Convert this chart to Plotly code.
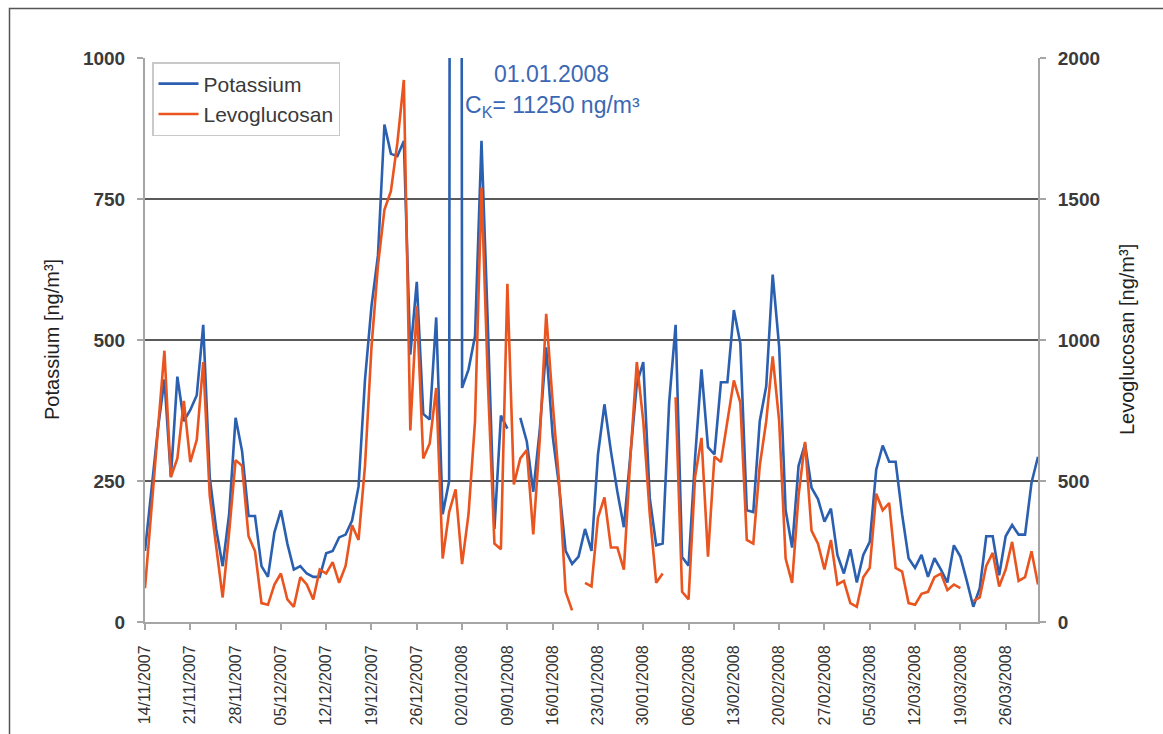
import pandas as pd
import plotly.graph_objects as go

# ---------------- data ----------------
start_date = "2007-11-14"
n_days = 139
dates = pd.date_range(start_date, periods=n_days, freq="D")

potassium = [
    126, 231, 343, 430, 257, 435, 356, 376, 402, 527,
    257, 165, 99, 191, 362, 303, 188, 188, 99, 80,
    159, 198, 139, 93, 99, 86, 80, 80, 122, 126,
    150, 155, 180, 240, 430, 560, 650, 882, 830, 826,
    853, 474, 603, 369, 359, 540, 191, 250, 11250, 415,
    448, 507, 853, 520, 165, 366, 343, None, 362, 320,
    231, 340, 487, 330, 240, 126, 103, 116, 165, 126,
    297, 386, 303, 231, 168, 290, 422, 461, 220, 136,
    139, 389, 527, 115, 100, 290, 448, 310, 297, 425,
    425, 553, 494, 198, 195, 356, 418, 616, 488, 198,
    132, 277, 316, 238, 218, 178, 201, 119, 86, 129,
    70, 119, 142, 270, 313, 284, 284, 191, 113, 96,
    119, 80, 113, 93, 70, 136, 116, 73, 27, 60,
    152, 152, 83, 152, 172, 155, 155, 247, 293,
]

levoglucosan = [
    120, 400, 682, 962, 514, 580, 784, 567, 646, 922,
    449, 264, 87, 317, 574, 554, 304, 251, 67, 61,
    133, 172, 80, 54, 159, 133, 80, 186, 172, 212,
    139, 199, 343, 291, 554, 975, 1264, 1462, 1528, 1699,
    1922, 679, 1120, 580, 633, 830, 225, 390, 470, 205,
    383, 712, 1541, 843, 278, 258, 1199, 488, 580, 610,
    311, 646, 1093, 778, 495, 107, 41, None, 139, 126,
    370, 442, 264, 264, 186, 580, 922, 712, 383, 139,
    172, None, 797, 107, 80, 514, 653, 232, 587, 567,
    712, 857, 778, 291, 278, 554, 712, 942, 712, 225,
    139, 449, 639, 324, 278, 186, 291, 133, 146, 67,
    54, 159, 192, 455, 396, 422, 192, 179, 67, 61,
    100, 107, 159, 172, 113, 133, 120, None, 74, 87,
    199, 245, 126, 186, 284, 146, 159, 251, 133,
]

left_ticks = [0, 250, 500, 750, 1000]
right_ticks = [0, 500, 1000, 1500, 2000]
tick_step_days = 7

# ---------------- style ----------------
BLUE = "#2b5fb0"
ORANGE = "#e9541f"
AXIS_GREY = "#a6a6a6"
GRID_GREY = "#5a5a5a"
TEXT = "#3a3a3a"
FONT = "Arial, Liberation Sans, sans-serif"

W, H = 1163, 734
L, R, T, B = 145, 125, 58, 112
pw, ph = W - L - R, H - T - B


def px_x(px):
    return (px - L) / pw


def px_y(py):
    return (H - B - py) / ph


fig = go.Figure()
fig.add_trace(go.Scatter(
    x=dates, y=potassium, name="Potassium", mode="lines",
    line=dict(color=BLUE, width=2.6), connectgaps=False,
))
fig.add_trace(go.Scatter(
    x=dates, y=levoglucosan, name="Levoglucosan", mode="lines",
    line=dict(color=ORANGE, width=2.6), connectgaps=False, yaxis="y2",
))

fig.update_layout(
    width=W, height=H,
    margin=dict(l=L, r=R, t=T, b=B, pad=0, autoexpand=False),
    paper_bgcolor="white", plot_bgcolor="white",
    font=dict(family=FONT, color=TEXT),
    showlegend=True,
    legend=dict(
        x=px_x(152), y=px_y(62), xanchor="left", yanchor="top",
        bgcolor="white", bordercolor="#c9c9c9", borderwidth=1.5,
        font=dict(size=21, color=TEXT, family=FONT),
        tracegroupgap=0, itemwidth=40,
    ),
    xaxis=dict(
        type="date",
        range=[dates[0], dates[-1]],
        tick0=start_date, dtick=tick_step_days * 86400000,
        tickformat="%d/%m/%Y", tickangle=-90,
        ticks="outside", ticklen=6, tickwidth=1.5, tickcolor=AXIS_GREY,
        showline=True, linecolor=AXIS_GREY, linewidth=2,
        showgrid=False, zeroline=False, automargin=False,
        tickfont=dict(family=FONT, size=16, color="#333333"),
        ticklabelstandoff=9,
    ),
    yaxis=dict(
        range=[0, 1000], tickvals=left_ticks,
        ticks="outside", ticklen=6, tickwidth=1.5, tickcolor=AXIS_GREY,
        showline=True, linecolor=AXIS_GREY, linewidth=2,
        showgrid=True, gridcolor=GRID_GREY, gridwidth=2,
        zeroline=False, automargin=False,
        tickfont=dict(family=FONT, size=19, color=TEXT, weight="bold"),
        ticklabelstandoff=8,
    ),
    yaxis2=dict(
        range=[0, 2000], tickvals=right_ticks,
        overlaying="y", side="right",
        ticks="outside", ticklen=6, tickwidth=1.5, tickcolor=AXIS_GREY,
        showline=True, linecolor=AXIS_GREY, linewidth=2,
        showgrid=False, zeroline=False, automargin=False,
        tickfont=dict(family=FONT, size=19, color=TEXT, weight="bold"),
        ticklabelstandoff=8,
    ),
)

# axis titles
fig.add_annotation(
    text="Potassium [ng/m³]", xref="paper", yref="paper",
    x=px_x(52), y=px_y(340), xanchor="center", yanchor="middle",
    textangle=-90, showarrow=False,
    font=dict(size=20, color="#222222", family=FONT),
)
fig.add_annotation(
    text="Levoglucosan [ng/m³]", xref="paper", yref="paper",
    x=px_x(1127), y=px_y(340), xanchor="center", yanchor="middle",
    textangle=-90, showarrow=False,
    font=dict(size=20, color="#222222", family=FONT),
)

# spike annotation
fig.add_annotation(
    text="01.01.2008", xref="paper", yref="paper",
    x=px_x(551), y=px_y(74), xanchor="center", yanchor="middle",
    showarrow=False,
    font=dict(size=23, color="#3b68b4", family=FONT),
)
fig.add_annotation(
    text="C<sub>K</sub>= 11250 ng/m³", xref="paper", yref="paper",
    x=px_x(552), y=px_y(106), xanchor="center", yanchor="middle",
    showarrow=False,
    font=dict(size=23, color="#3b68b4", family=FONT),
)

# outer frame
fig.add_shape(
    type="rect", xref="paper", yref="paper",
    x0=px_x(9.5), x1=px_x(1180), y0=px_y(760), y1=px_y(8.5),
    line=dict(color="#555555", width=1.5), fillcolor="rgba(0,0,0,0)",
    layer="below",
)

fig.write_html(
    "out.html",
    config={"displayModeBar": False},
    post_script="document.body.style.margin='0px';",
)
